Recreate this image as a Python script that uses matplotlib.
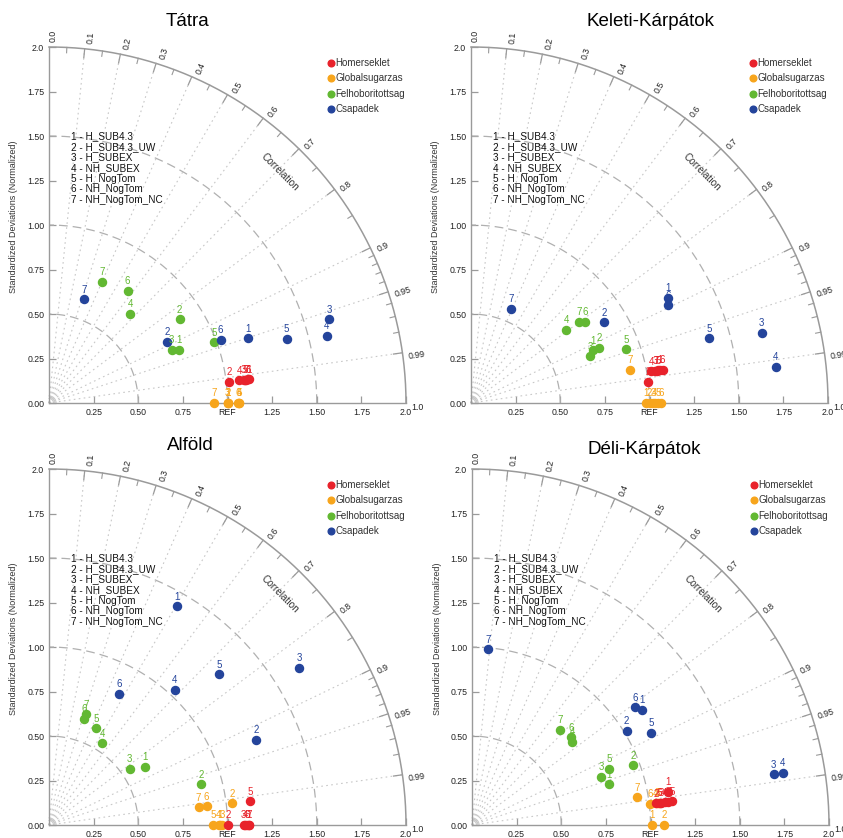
import numpy as np
import matplotlib.pyplot as plt

plt.rcParams['font.family'] = ['Liberation Sans', 'DejaVu Sans']

regions = ['Tátra', 'Keleti-Kárpátok', 'Alföld', 'Déli-Kárpátok']
variables = ['Homerseklet', 'Globalsugarzas', 'Felhoboritottsag', 'Csapadek']
var_colors = ['#e8222b', '#f7a51c', '#62b832', '#24449b']
models = ['H_SUB4.3', 'H_SUB4.3_UW', 'H_SUBEX', 'NH_SUBEX',
          'H_NogTom', 'NH_NogTom', 'NH_NogTom_NC']

# normalizalt szoras, sorok = valtozok, oszlopok = modellek 1..7
tatra_std = [[1.128, 1.017, 1.098, 1.073, 1.108, 1.123, 1.113],
             [1.000, 1.005, 1.000, 1.065, 1.065, 1.060, 0.924],
             [0.785, 0.870, 0.749, 0.677, 0.985, 0.768, 0.743],
             [1.174, 0.745, 1.640, 1.601, 1.380, 1.025, 0.614]]
tatra_cor = [[0.993, 0.993, 0.993, 0.993, 0.993, 0.993, 0.993],
             [1.000, 1.000, 1.000, 1.000, 1.000, 1.000, 1.000],
             [0.925, 0.841, 0.917, 0.673, 0.938, 0.573, 0.400],
             [0.951, 0.888, 0.958, 0.972, 0.965, 0.938, 0.318]]

keleti_std = [[1.075, 1.000, 1.046, 1.026, 1.066, 1.090, 1.056],
              [0.980, 1.000, 1.020, 1.030, 1.050, 1.065, 0.912],
              [0.745, 0.781, 0.719, 0.674, 0.920, 0.783, 0.757],
              [1.251, 0.872, 1.676, 1.720, 1.383, 1.234, 0.576]]
keleti_cor = [[0.985, 0.993, 0.985, 0.985, 0.985, 0.985, 0.985],
              [1.000, 1.000, 1.000, 1.000, 1.000, 1.000, 0.979],
              [0.918, 0.918, 0.931, 0.792, 0.945, 0.814, 0.799],
              [0.882, 0.854, 0.972, 0.993, 0.965, 0.896, 0.391]]

alfold_std = [[1.120, 1.003, 1.090, 1.100, 1.136, 1.110, 1.120],
              [0.960, 1.032, 0.970, 0.950, 0.920, 0.889, 0.844],
              [0.629, 0.881, 0.553, 0.548, 0.603, 0.629, 0.655],
              [1.423, 1.256, 1.658, 1.036, 1.276, 0.834, np.nan]]
alfold_cor = [[1.000, 1.000, 1.000, 1.000, 0.993, 1.000, 1.000],
              [1.000, 0.993, 1.000, 1.000, 1.000, 0.993, 0.993],
              [0.854, 0.966, 0.819, 0.546, 0.435, 0.312, 0.314],
              [0.505, 0.924, 0.846, 0.679, 0.748, 0.469, np.nan]]

deli_std = [[1.114, 1.038, 1.068, 1.088, 1.128, 1.058, 1.108],
            [1.006, 1.077, 1.047, 1.037, 1.057, 1.007, 0.940],
            [0.800, 0.963, 0.773, 0.731, 0.830, 0.742, 0.727],
            [1.151, 1.016, 1.714, 1.767, 1.130, 1.129, 0.991]]
deli_cor = [[0.986, 0.993, 0.993, 0.993, 0.993, 0.993, 0.993],
            [1.000, 1.000, 0.993, 0.993, 0.993, 0.993, 0.986],
            [0.958, 0.937, 0.937, 0.770, 0.924, 0.748, 0.678],
            [0.826, 0.853, 0.986, 0.986, 0.889, 0.811, 0.091]]

cor_major = [0.0, 0.1, 0.2, 0.3, 0.4, 0.5, 0.6, 0.7, 0.8, 0.9, 0.95, 0.99, 1.0]
cor_major_lbl = ['0.0', '0.1', '0.2', '0.3', '0.4', '0.5', '0.6', '0.7',
                 '0.8', '0.9', '0.95', '0.99', '1.0']
cor_minor = [0.05, 0.15, 0.25, 0.35, 0.45, 0.55, 0.65, 0.75, 0.85,
             0.91, 0.92, 0.93, 0.94, 0.96, 0.97, 0.98]
std_ticks = [0.25, 0.5, 0.75, 1.0, 1.25, 1.5, 1.75, 2.0]

GREY = '#9a9a9a'
LIGHT = '#c8c8c8'


def taylor_frame(ax):
    ax.set_xlim(0, 2)
    ax.set_ylim(0, 2)
    ax.patch.set_visible(False)
    for s in ['top', 'right']:
        ax.spines[s].set_visible(False)
    for s in ['left', 'bottom']:
        ax.spines[s].set_color(GREY)
        ax.spines[s].set_linewidth(1.0)
    ax.set_xticks(std_ticks)
    ax.set_xticklabels(['0.25', '0.50', '0.75', 'REF', '1.25', '1.50', '1.75', '2.0'])
    ax.set_yticks([0.0] + std_ticks)
    ax.set_yticklabels(['0.00', '0.25', '0.50', '0.75', '1.00', '1.25', '1.50', '1.75', '2.0'])
    ax.tick_params(direction='in', length=5, width=0.9, color=GREY,
                   labelsize=6.3, labelcolor='#222222')
    ax.tick_params(axis='x', pad=3.5)
    ax.tick_params(axis='y', pad=3.5)

    t = np.linspace(0, np.pi / 2, 300)
    ax.plot(2 * np.cos(t), 2 * np.sin(t), color=GREY, lw=1.1, clip_on=False)
    for r in [0.5, 1.0, 1.5]:
        ax.plot(r * np.cos(t), r * np.sin(t), color='#b0b0b0', lw=0.9,
                dashes=(7, 4), clip_on=False)
    for r in [0.025, 0.04]:
        ax.plot(r * np.cos(t), r * np.sin(t), color=LIGHT, lw=0.7, clip_on=False)

    for c in cor_major[1:-1]:
        th = np.arccos(c)
        ax.plot([0, 2 * np.cos(th)], [0, 2 * np.sin(th)], color=LIGHT,
                lw=0.8, linestyle=(0, (1.5, 3)), clip_on=False)
        ax.plot([1.95 * np.cos(th), 2 * np.cos(th)], [1.95 * np.sin(th), 2 * np.sin(th)],
                color=GREY, lw=0.9, clip_on=False)
    for c in cor_minor:
        th = np.arccos(c)
        ax.plot([1.97 * np.cos(th), 2 * np.cos(th)], [1.97 * np.sin(th), 2 * np.sin(th)],
                color=GREY, lw=0.8, clip_on=False)
    for c, lbl in zip(cor_major, cor_major_lbl):
        th = np.arccos(c)
        ax.text(2.03 * np.cos(th), 2.03 * np.sin(th), lbl, rotation=np.degrees(th),
                rotation_mode='anchor', ha='left', va='top', fontsize=6.3,
                color='#222222', clip_on=False)
    ax.text(1.295, 1.297, 'Correlation', rotation=-45, ha='center', va='center',
            fontsize=7.2, color='#333333')

    for i, m in enumerate(models):
        ax.text(0.125, 1.50 - i * 0.0597, f'{i + 1} - {m}', fontsize=7.2,
                va='center', color='#111111')
    for i, (v, col) in enumerate(zip(variables, var_colors)):
        y = 1.912 - i * 0.087
        ax.plot(1.58, y, 'o', color=col, ms=4.8, clip_on=False)
        ax.text(1.605, y, v, fontsize=7, va='center', color='#333333')


def taylor_points(ax, std, cor):
    # elobb Globalsugarzas, utana Homerseklet, Felhoboritottsag, Csapadek
    for k in [1, 0, 2, 3]:
        s = np.array(std[k])
        c = np.array(cor[k])
        th = np.arccos(c)
        xs = s * np.cos(th)
        ys = s * np.sin(th)
        for j in range(len(s)):
            if np.isnan(s[j]):
                continue
            ax.plot(xs[j], ys[j], 'o', color=var_colors[k], ms=5.8,
                    mec=var_colors[k], clip_on=False, zorder=5)
            ax.annotate(str(j + 1), (xs[j], ys[j]), xytext=(0, 3.3),
                        textcoords='offset points', ha='center', va='bottom',
                        fontsize=7, color=var_colors[k], zorder=6,
                        annotation_clip=False)


W, H = 843, 838
fig = plt.figure(figsize=(W / 100, H / 100), dpi=100)

# origo helye pixelben, tengelyhossz 357 px
origins = [(49, 403), (471, 403), (49, 825), (472, 825)]
title_pos = [(188, 22), (651, 22), (190, 446), (644, 449)]
all_std = [tatra_std, keleti_std, alfold_std, deli_std]
all_cor = [tatra_cor, keleti_cor, alfold_cor, deli_cor]

for p in range(4):
    ox, oy = origins[p]
    ax = fig.add_axes([ox / W, (H - oy) / H, 357 / W, 356 / H])
    taylor_frame(ax)
    taylor_points(ax, all_std[p], all_cor[p])
    fig.text(title_pos[p][0] / W, 1 - title_pos[p][1] / H, regions[p],
             fontsize=13.5, ha='center', va='center')
    fig.text((ox - 35) / W, 1 - (oy - 186) / H, 'Standardized Deviations (Normalized)',
             rotation=90, ha='center', va='center', fontsize=6.5, color='#333333')

fig.savefig('out.png', dpi=100)
